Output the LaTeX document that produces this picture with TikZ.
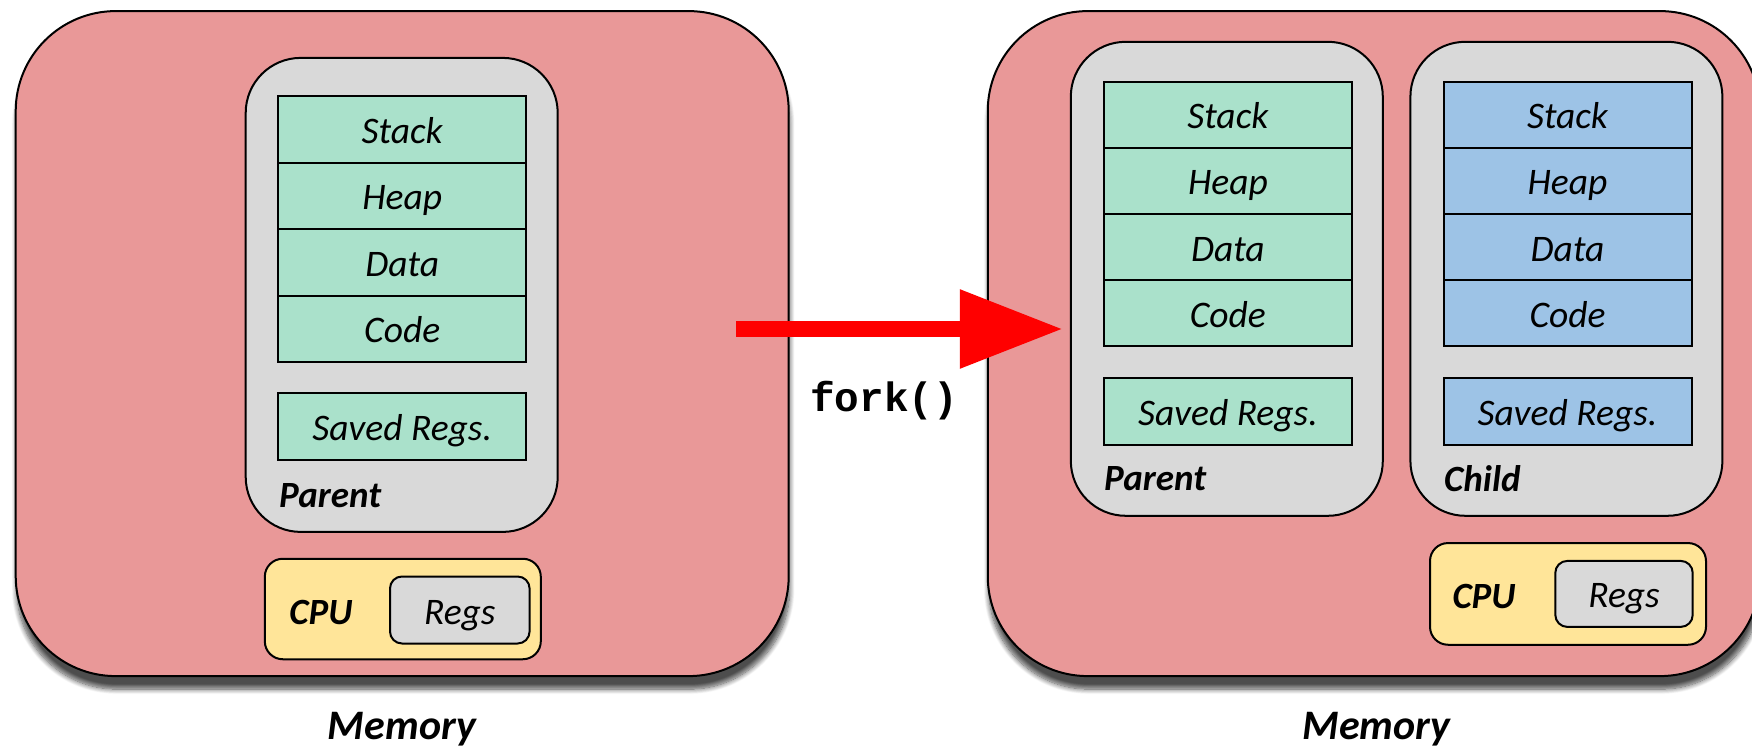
\documentclass[tikz,border=0pt]{standalone}
\usepackage{fontspec}
\setmainfont{Carlito}
\setmonofont{Liberation Mono}
\usetikzlibrary{arrows.meta,shadows.blur}

\definecolor{memFill}{RGB}{233,152,152}
\definecolor{procGray}{RGB}{217,217,217}
\definecolor{segGreen}{RGB}{170,225,203}
\definecolor{segBlue}{RGB}{157,195,230}
\definecolor{cpuYellow}{RGB}{255,229,153}
\definecolor{forkRed}{RGB}{255,0,0}

\tikzset{
  memory/.style={draw=black, line width=2pt, fill=memFill, rounded corners=100pt,
    inner sep=0pt,
    blur shadow={shadow xshift=1pt, shadow yshift=-13pt, shadow blur radius=5pt,
      shadow blur steps=10, shadow opacity=70}},
  process/.style={draw=black, line width=2pt, fill=procGray, rounded corners=55pt,
    inner sep=0pt, minimum width=312pt, minimum height=474pt},
  segment/.style={draw=black, line width=2pt, inner sep=0pt,
    text height=32pt, text depth=4pt,
    minimum width=248pt, font=\fontsize{37.5}{37.5}\selectfont\itshape},
  seggreen/.style={segment, fill=segGreen},
  segblue/.style={segment, fill=segBlue},
  cpubox/.style={draw=black, line width=2pt, fill=cpuYellow, rounded corners=18pt,
    inner sep=0pt, minimum width=276pt},
  regsbox/.style={draw=black, line width=2pt, fill=procGray, rounded corners=12pt,
    inner sep=0pt, text height=32pt, text depth=4pt,
    font=\fontsize{37.5}{37.5}\selectfont\itshape},
  boldlabel/.style={font=\fontsize{37}{37}\selectfont\bfseries\itshape, inner sep=0pt},
  memlabel/.style={font=\fontsize{42}{42}\selectfont\bfseries\itshape, inner sep=0pt},
  forkarrow/.style={draw=forkRed, line width=15.7pt,
    -{Triangle[length=103pt,width=75pt]}},
}

\begin{document}
\begin{tikzpicture}[x=1pt,y=-1pt]
\useasboundingbox (0,0) rectangle (1752,751);

% ---------- before fork ----------
\node[memory, minimum width=773pt, minimum height=665pt] (m1) at (402.2,343.6) {};
\node[process] (p1) at (401.7,294.9) {};
\node[seggreen, minimum height=66.5pt] (a1) at (402.2,129.3) {Stack};
\node[seggreen, minimum height=66.5pt] (a2) at (402.2,195.8) {Heap};
\node[seggreen, minimum height=66.5pt] (a3) at (402.2,262.3) {Data};
\node[seggreen, minimum height=66.5pt] (a4) at (402.2,328.8) {Code};
\node[seggreen, minimum height=67pt] (a5) at (402.2,426.8) {Saved Regs.};
\node[boldlabel, anchor=west] (p1l) at (279,496) {Parent};
\node[cpubox, minimum height=100.5pt] (c1) at (402.8,609) {};
\node[boldlabel] (c1l) at (321,612) {CPU};
\node[regsbox, minimum width=139.6pt, minimum height=67pt] (r1) at (459.8,610) {Regs};
\node[memlabel] (m1l) at (402,729) {Memory};

% ---------- after fork ----------
\node[memory, minimum width=772.3pt, minimum height=665pt] (m2) at (1373.9,343.6) {};
\node[process] (p2) at (1226.8,278.8) {};
\node[process] (ch) at (1566.4,278.8) {};
\node[seggreen, minimum height=66.2pt] (b1) at (1227.9,114.7) {Stack};
\node[seggreen, minimum height=66.2pt] (b2) at (1227.9,180.9) {Heap};
\node[seggreen, minimum height=66.2pt] (b3) at (1227.9,247.1) {Data};
\node[seggreen, minimum height=66.2pt] (b4) at (1227.9,313.3) {Code};
\node[seggreen, minimum height=67pt] (b5) at (1227.9,411.2) {Saved Regs.};
\node[segblue, minimum height=66.2pt] (d1) at (1567.5,114.7) {Stack};
\node[segblue, minimum height=66.2pt] (d2) at (1567.5,180.9) {Heap};
\node[segblue, minimum height=66.2pt] (d3) at (1567.5,247.1) {Data};
\node[segblue, minimum height=66.2pt] (d4) at (1567.5,313.3) {Code};
\node[segblue, minimum height=67pt] (d5) at (1567.5,411.2) {Saved Regs.};
\node[boldlabel, anchor=west] (p2l) at (1104,479) {Parent};
\node[boldlabel, anchor=west] (chl) at (1444,479) {Child};
\node[cpubox, minimum height=101.7pt] (c2) at (1568,593.9) {};
\node[boldlabel] (c2l) at (1484,596) {CPU};
\node[regsbox, minimum width=137.4pt, minimum height=66pt] (r2) at (1624,593.9) {Regs};
\node[memlabel] (m2l) at (1376.5,729) {Memory};

% ---------- the fork() call ----------
\coordinate (fs) at (736,329);
\draw[forkarrow, shorten >=7pt] (fs) -- (fs -| p2.west);
\node[font=\ttfamily\bfseries\fontsize{41}{41}\selectfont, inner sep=0pt] (fk) at (884,401) {fork()};
\end{tikzpicture}
\end{document}
